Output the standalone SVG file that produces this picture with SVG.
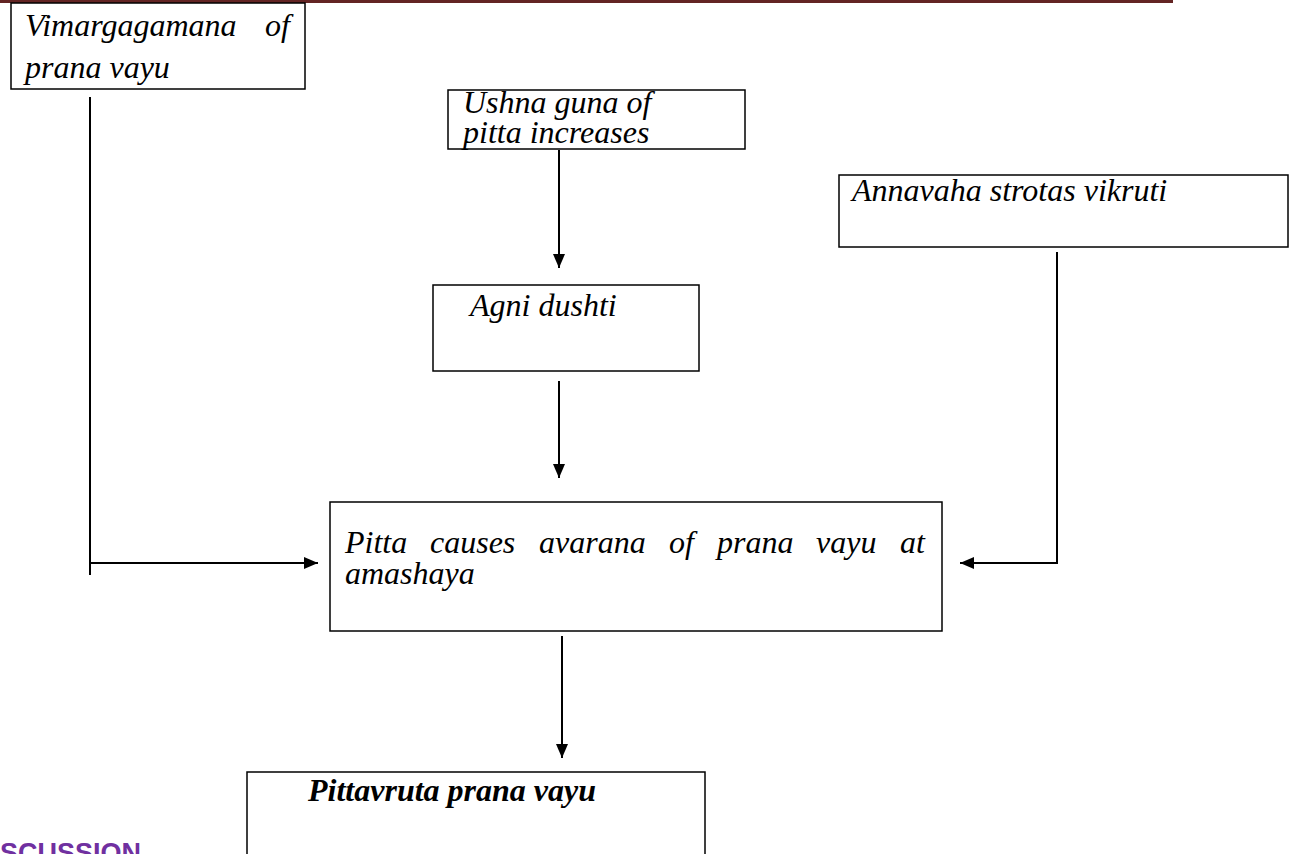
<svg xmlns="http://www.w3.org/2000/svg" width="1296" height="854" viewBox="0 0 1296 854">
<style>
.box{fill:#fff;stroke:#000;stroke-width:1.5}
.t{font-family:"Liberation Serif","Times New Roman",serif;font-style:italic;font-size:32px;fill:#000}
.b{font-weight:bold}
.c{fill:none;stroke:#000;stroke-width:2}
</style>
<defs>
<marker id="ah" viewBox="0 0 14 12" refX="14" refY="6" markerWidth="14" markerHeight="12" markerUnits="userSpaceOnUse" orient="auto">
<path d="M0 0 L14 6 L0 12 z" fill="#000"/>
</marker>
</defs>
<rect width="1296" height="854" fill="#fff"/>
<rect x="0" y="0" width="1173" height="3" fill="#632423"/>
<g id="connectors">
<path class="c" d="M90 97 V575"/>
<path class="c" d="M90 563 H318" marker-end="url(#ah)"/>
<path class="c" d="M559 150 V268" marker-end="url(#ah)"/>
<path class="c" d="M559 381 V478" marker-end="url(#ah)"/>
<path class="c" d="M1057 252 V563 H960" marker-end="url(#ah)"/>
<path class="c" d="M562 636 V758" marker-end="url(#ah)"/>
</g>
<g id="n-vimarg">
<rect class="box" x="11" y="3" width="294" height="86"/>
<text class="t" y="36"><tspan x="25">Vimargagamana</tspan><tspan x="290" text-anchor="end">of</tspan></text>
<text class="t" x="25" y="78">prana vayu</text>
</g>
<g id="n-ushna">
<rect class="box" x="448" y="90" width="297" height="59"/>
<text class="t" x="463" y="113">Ushna guna of</text>
<text class="t" x="463" y="143">pitta increases</text>
</g>
<g id="n-agni">
<rect class="box" x="433" y="285" width="266" height="86"/>
<text class="t" x="470" y="316">Agni dushti</text>
</g>
<g id="n-anna">
<rect class="box" x="839" y="175" width="449" height="72"/>
<text class="t" x="852" y="201">Annavaha strotas vikruti</text>
</g>
<g id="n-pitta">
<rect class="box" x="330" y="502" width="612" height="129"/>
<text class="t" y="553"><tspan x="345">Pitta</tspan><tspan x="430">causes</tspan><tspan x="539">avarana</tspan><tspan x="669">of</tspan><tspan x="717">prana</tspan><tspan x="816">vayu</tspan><tspan x="925" text-anchor="end">at</tspan></text>
<text class="t" x="345" y="584">amashaya</text>
</g>
<g id="n-pittavruta">
<rect class="box" x="247" y="772" width="458" height="120"/>
<text class="t b" x="308" y="801">Pittavruta prana vayu</text>
</g>
<text x="-27" y="862" font-family="Liberation Sans, Arial, sans-serif" font-weight="bold" font-size="27" fill="#7030A0">DISCUSSION</text>
</svg>
